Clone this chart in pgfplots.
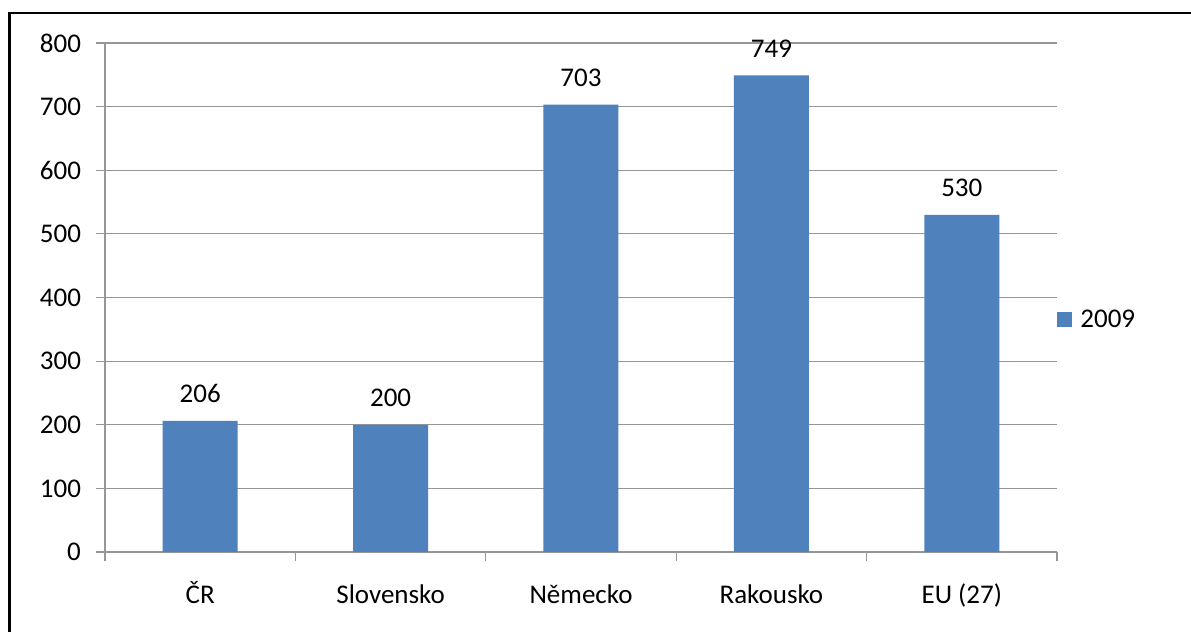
\documentclass[border=0pt]{standalone}
\usepackage{fontspec}
\setmainfont{Carlito}
\usepackage{pgfplots}
\pgfplotsset{compat=1.18}
\definecolor{barblue}{HTML}{4F81BD}
\definecolor{gridgray}{HTML}{969696}
\newcommand{\lf}{\fontsize{13.5}{16}\selectfont}
\begin{document}
\begin{tikzpicture}
\useasboundingbox (0,0) rectangle (595.5pt,316pt);
\fill[white] (0,0) rectangle (595.5pt,316pt);
\draw[line width=1.1pt] (4.75pt,0) -- (4.75pt,309.5pt) -- (596pt,309.5pt);
\begin{axis}[
  at={(52.5pt,40pt)}, anchor=south west,
  scale only axis, width=476pt, height=254.5pt,
  ymin=0, ymax=800, ytick={0,100,...,800},
  xmin=-0.5, xmax=4.5,
  xtick={-0.5,0.5,...,4.5}, xticklabels={},
  extra x ticks={0,1,2,3,4},
  extra x tick labels={ČR,Slovensko,Německo,Rakousko,EU (27)},
  extra x tick style={major tick length=0pt, grid=none,
    xticklabel style={anchor=base, yshift=-26pt}},
  axis x line*=bottom, axis y line*=left,
  axis line style={draw=gridgray, line width=0.6pt, -},
  ymajorgrids, grid style={draw=gridgray, line width=0.6pt},
  tick align=outside, major tick length=4.5pt,
  tick style={draw=gridgray, line width=0.6pt},
  /pgf/number format/assume math mode=true,
  tick label style={font=\lf, text=black},
  yticklabel style={xshift=-4pt},
  ybar, bar width=37.5pt,
  nodes near coords,
  every node near coord/.append style={font=\lf, anchor=base, yshift=9pt},
  legend style={at={(rel axis cs:1,0.456)}, anchor=west, draw=none, fill=none,
    inner xsep=0pt, font=\lf, nodes={inner xsep=4pt}},
  legend image code/.code={\fill[barblue] (0.5pt,-3.75pt) rectangle (8pt,3.75pt);},
]
\addplot[fill=barblue, draw=none] coordinates {(0,206) (1,200) (2,703) (3,749) (4,530)};
\legend{2009}
\end{axis}
\end{tikzpicture}
\end{document}
